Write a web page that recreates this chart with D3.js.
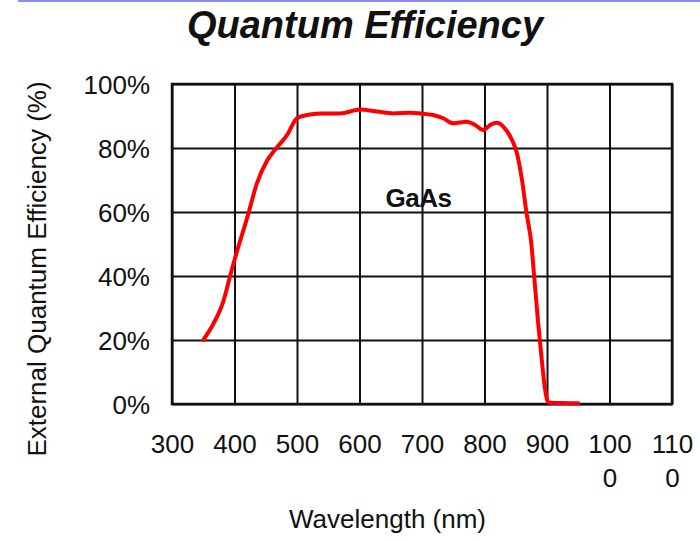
<!DOCTYPE html>
<html>
<head>
<meta charset="utf-8">
<script src="https://cdn.jsdelivr.net/npm/d3@7"></script>
<style>
  html, body { margin: 0; padding: 0; background: #ffffff; }
  svg { display: block; font-family: "Liberation Sans", Arial, sans-serif; }
</style>
</head>
<body>
<svg id="chart" width="700" height="541"></svg>
<script>
// GaAs external quantum efficiency curve (wavelength in nm, efficiency in %)
const wavelength = [350, 366, 382, 393, 400, 409, 420, 436, 452, 465, 484, 500, 516, 537, 569, 601, 628, 654, 681, 697, 718, 734, 750, 771, 785, 798, 809, 820, 830, 844, 852, 860, 867, 875, 879, 886, 891, 897, 902, 925, 950];
const efficiency = [20, 25, 32, 40, 45, 51, 58, 69, 76, 79.5, 84, 89.3, 90.3, 90.8, 90.8, 92, 91.4, 90.8, 91, 90.8, 90.3, 89.3, 87.7, 88.2, 87.2, 85.6, 87.2, 87.9, 86.7, 82.5, 78.3, 70, 60, 50, 41, 25, 15, 4.5, 0.5, 0.3, 0.2];

const xTicks = [300, 400, 500, 600, 700, 800, 900, 1000, 1100];
const yTicks = [0, 20, 40, 60, 80, 100];

const titleText = "Quantum Efficiency";
const xTitle = "Wavelength (nm)";
const yTitle = "External Quantum Efficiency (%)";
const seriesLabel = "GaAs";

const svg = d3.select("#chart");
const W = 700, H = 541;
const margin = { left: 172, right: 28, top: 84, bottom: 137 };
const plotW = W - margin.left - margin.right;
const plotH = H - margin.top - margin.bottom;

// thin accent rule along the top edge
svg.append("line")
  .attr("x1", 18).attr("x2", W).attr("y1", 1).attr("y2", 1)
  .attr("stroke", "#8c8cf6").attr("stroke-width", 2);

const x = d3.scaleLinear().domain([300, 1100]).range([0, plotW]);
const y = d3.scaleLinear().domain([0, 100]).range([plotH, 0]);

const g = svg.append("g").attr("transform", `translate(${margin.left},${margin.top})`);

// vertical grid lines
const xGrid = g.append("g")
  .call(d3.axisBottom(x).tickValues(xTicks).tickSize(plotH).tickSizeOuter(0).tickFormat(""));
xGrid.select(".domain").remove();
xGrid.selectAll(".tick line")
  .attr("y1", 0).attr("y2", plotH)
  .attr("stroke", "#111").attr("stroke-width", 2);

// x tick labels, wrapped to at most three characters per line
const xLabelAxis = g.append("g")
  .attr("transform", `translate(0,${plotH})`)
  .call(d3.axisBottom(x).tickValues(xTicks).tickSize(0).tickFormat(""));
xLabelAxis.select(".domain").remove();
xLabelAxis.selectAll(".tick").each(function(d) {
  const s = String(d);
  const lines = [];
  for (let i = 0; i < s.length; i += 3) lines.push(s.slice(i, i + 3));
  const t = d3.select(this).append("text")
    .attr("fill", "#111")
    .attr("font-size", 26)
    .attr("text-anchor", "middle")
    .attr("y", 49);
  lines.forEach((ln, i) => {
    t.append("tspan").attr("x", 0).attr("dy", i === 0 ? 0 : 34).text(ln);
  });
});

// horizontal grid + left labels
const yAxis = g.append("g")
  .call(d3.axisLeft(y).tickValues(yTicks).tickSize(-plotW).tickSizeOuter(0).tickFormat(d => d + "%").tickPadding(22));
yAxis.select(".domain").remove();
yAxis.selectAll(".tick line").attr("stroke", "#111").attr("stroke-width", 2);
yAxis.selectAll(".tick text")
  .attr("fill", "#111")
  .attr("font-size", 26)
  .attr("font-family", "Liberation Sans, Arial, sans-serif")
  .attr("dy", "0.35em");

// plot frame
g.append("rect")
  .attr("x", 0).attr("y", 0).attr("width", plotW).attr("height", plotH)
  .attr("fill", "none").attr("stroke", "#111").attr("stroke-width", 2.5);

// efficiency curve
const pts = wavelength.map((w, i) => [w, efficiency[i]]);
const line = d3.line()
  .x(d => x(d[0]))
  .y(d => y(d[1]))
  .curve(d3.curveMonotoneX);
g.append("path")
  .datum(pts)
  .attr("d", line)
  .attr("fill", "none")
  .attr("stroke", "#ff0000")
  .attr("stroke-width", 4)
  .attr("stroke-linejoin", "round")
  .attr("stroke-linecap", "round");

// series label inside the plot
svg.append("text")
  .attr("x", 418.5).attr("y", 207)
  .attr("text-anchor", "middle")
  .attr("font-size", 26)
  .attr("font-weight", "bold")
  .attr("letter-spacing", -0.5)
  .attr("fill", "#111")
  .text(seriesLabel);

// chart title
svg.append("text")
  .attr("x", 365).attr("y", 38)
  .attr("text-anchor", "middle")
  .attr("font-size", 38)
  .attr("font-weight", "bold")
  .attr("font-style", "italic")
  .attr("fill", "#111")
  .text(titleText);

// axis titles
svg.append("text")
  .attr("x", 387.5).attr("y", 528)
  .attr("text-anchor", "middle")
  .attr("font-size", 26)
  .attr("fill", "#111")
  .text(xTitle);

svg.append("text")
  .attr("transform", "translate(46,269) rotate(-90)")
  .attr("text-anchor", "middle")
  .attr("font-size", 26)
  .attr("fill", "#111")
  .text(yTitle);
</script>
</body>
</html>
